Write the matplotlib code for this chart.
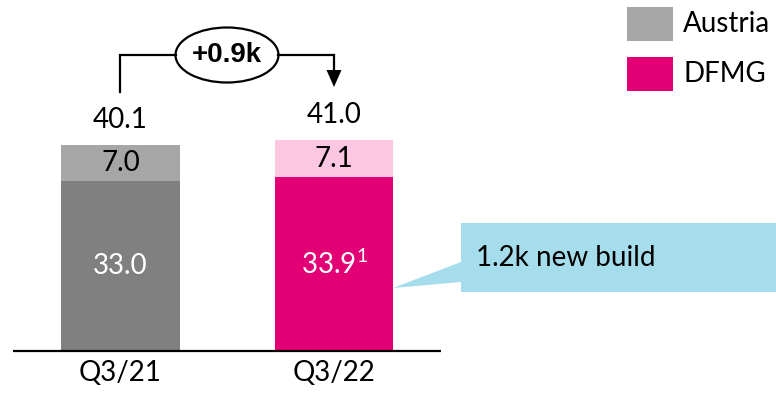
import matplotlib
matplotlib.use('Agg')
import matplotlib.pyplot as plt
from matplotlib.patches import Rectangle, Ellipse, Polygon

plt.rcParams['font.family'] = ['Lato', 'DejaVu Sans']

categories = ['Q3/21', 'Q3/22']
base_vals = [33.0, 33.9]
top_vals = [7.0, 7.1]
totals = [40.1, 41.0]
base_labels = ['33.0', r'33.9$^{\mathregular{1}}$']
delta_label = '+0.9k'
callout_text = '1.2k new build'
legend_names = ['Austria', 'DFMG']

base_colors = ['#808080', '#E20074']
top_colors = ['#A6A6A6', '#FDC6E1']

W, H = 776, 395
fig = plt.figure(figsize=(W / 100, H / 100), dpi=100)
ax = fig.add_axes([0, 0, 1, 1])
ax.axis('off')

# y pixel = 351 - 5.14 * v ; x pixel = 120.5 + 213.5 * x
ppu = 5.14
ax.set_ylim((351 - H) / ppu, 351 / ppu)
ax.set_xlim(-120.5 / 213.5, (W - 120.5) / 213.5)

x = [0, 1]
ax.bar(x, base_vals, width=0.557, color=base_colors, zorder=2)
ax.bar(x, top_vals, bottom=base_vals, width=0.557, color=top_colors, zorder=2)

for i in range(2):
    ax.text(x[i], base_vals[i] / 2, base_labels[i], ha='center', va='center',
            color='white', fontsize=20, zorder=3)
    ax.text(x[i], base_vals[i] + top_vals[i] / 2, f'{top_vals[i]:.1f}', ha='center',
            va='center', color='black', fontsize=20, zorder=3)
    ax.text(x[i], totals[i] + 2.4, f'{totals[i]:.1f}', ha='center', va='bottom',
            color='black', fontsize=20)
    ax.text(x[i], -4.2, categories[i], ha='center', va='center', color='black', fontsize=20)


def P(px, py):
    return (px / W, 1 - py / H)


T = ax.transAxes
# baseline
ax.plot([P(13, 0)[0], P(441, 0)[0]], [P(0, 351)[1]] * 2, color='black', lw=1.6,
        transform=T, zorder=4, solid_capstyle='butt')

# bracket with delta
lw = 1.6
xs = [P(120, 0)[0], P(120, 0)[0], P(176, 0)[0]]
ys = [P(0, 92)[1], P(0, 55)[1], P(0, 55)[1]]
ax.plot(xs, ys, color='black', lw=lw, transform=T, solid_joinstyle='miter')
xs = [P(278, 0)[0], P(334, 0)[0], P(334, 0)[0]]
ys = [P(0, 55)[1], P(0, 55)[1], P(0, 72)[1]]
ax.plot(xs, ys, color='black', lw=lw, transform=T, solid_joinstyle='miter')
ax.add_patch(Polygon([P(326.5, 70), P(341.5, 70), P(334, 87)], closed=True,
                     facecolor='black', edgecolor='none', transform=T))
ax.add_patch(Ellipse(P(227, 55), 103 / W, 55 / H, facecolor='white', edgecolor='black',
                     lw=lw, transform=T))
ax.text(*P(227, 55), delta_label, ha='center', va='center', fontsize=20,
        fontweight='bold', family='Liberation Sans', transform=T)

# callout
ax.add_patch(Polygon([P(461, 223), P(776, 223), P(776, 292), P(461, 292),
                      P(461, 282), P(393, 288), P(461, 262)], closed=True,
                     facecolor='#A6DDEC', edgecolor='none', transform=T))
ax.text(*P(476, 258), callout_text, ha='left', va='center', fontsize=20, transform=T)

# legend
for j, (name, col) in enumerate(zip(legend_names, [top_colors[0], base_colors[1]])):
    y0 = 7 + 50 * j
    ax.add_patch(Rectangle(P(627, y0 + 34), 46 / W, 34 / H, facecolor=col,
                           edgecolor='none', transform=T))
    ax.text(*P(683, y0 + 17), name, ha='left', va='center', fontsize=20, transform=T)

fig.savefig('out.png', dpi=100)
